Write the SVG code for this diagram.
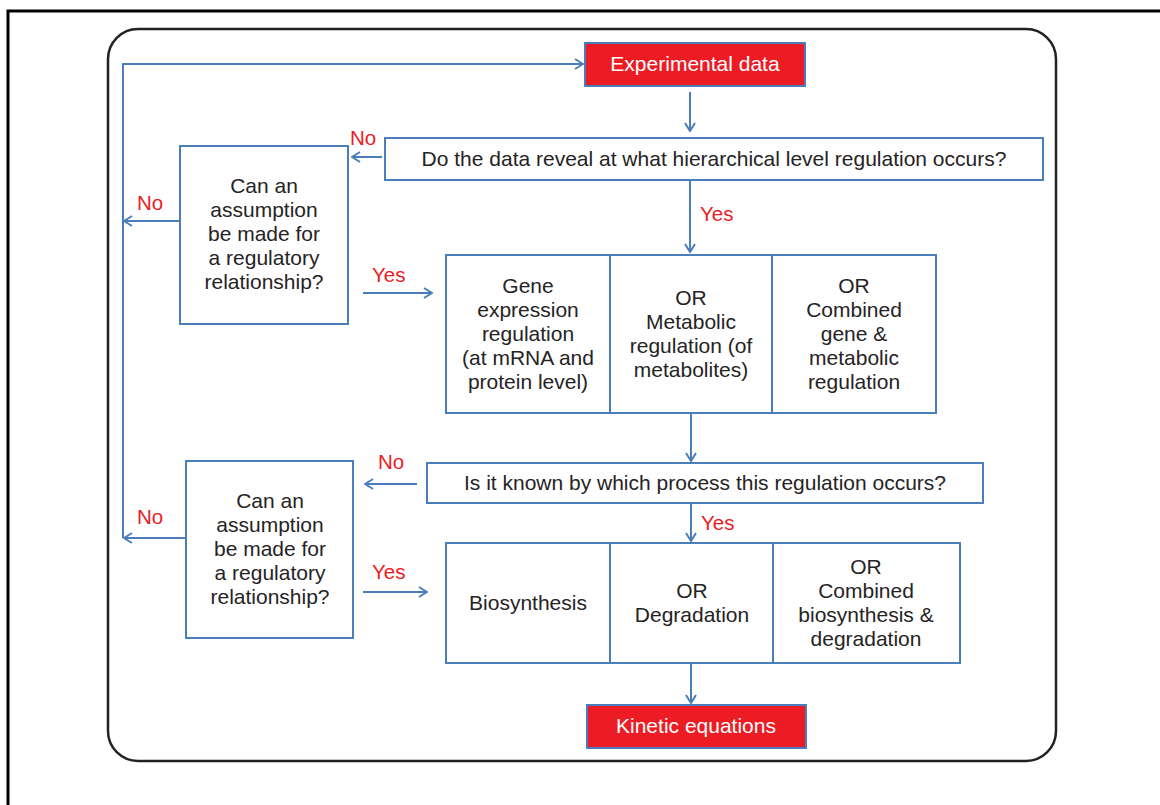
<svg xmlns="http://www.w3.org/2000/svg" width="1160" height="805" viewBox="0 0 1160 805">
<style>
  .box { fill: #ffffff; stroke: #4a7ebb; stroke-width: 2; }
  .red { fill: #ed1c24; stroke: #4a7ebb; stroke-width: 2; }
  .div { stroke: #4a7ebb; stroke-width: 2; }
  .t { font-family: "Liberation Sans", Arial, sans-serif; font-size: 21px; fill: #262324; text-anchor: middle; }
  .tw { font-family: "Liberation Sans", Arial, sans-serif; font-size: 21px; fill: #ffffff; text-anchor: middle; }
  .lbl { font-family: "Liberation Sans", Arial, sans-serif; font-size: 20.5px; fill: #ed1c24; }
  .c { fill: none; stroke: #4a7ebb; stroke-width: 2; marker-end: url(#ah); }
</style>
<defs>
  <marker id="ah" viewBox="0 0 10 12" refX="9" refY="6" markerWidth="10" markerHeight="12" markerUnits="userSpaceOnUse" orient="auto">
    <path d="M1,1 L9,6 L1,11" fill="none" stroke="#4a7ebb" stroke-width="2"/>
  </marker>
</defs>
<rect width="1160" height="805" fill="#ffffff"/>
<rect x="8" y="11" width="1200" height="900" fill="none" stroke="#000000" stroke-width="3"/>
<rect x="108" y="29" width="948" height="732" rx="30" ry="30" fill="none" stroke="#222222" stroke-width="2.5"/>

<g id="connectors">
  <path class="c" d="M123,538 L123,64 L583,64"/>
  <path class="c" d="M180,221 L124,221"/>
  <path class="c" d="M186,538 L124,538"/>
  <path class="c" d="M690,92 L690,131"/>
  <path class="c" d="M382,157 L352,157"/>
  <path class="c" d="M690,180 L690,252"/>
  <path class="c" d="M363,293 L432,293"/>
  <path class="c" d="M691,413 L691,461"/>
  <path class="c" d="M417,484 L365,484"/>
  <path class="c" d="M691,503 L691,541"/>
  <path class="c" d="M363,592 L427,592"/>
  <path class="c" d="M691,663 L691,703"/>
  <text class="lbl" x="350" y="145">No</text>
  <text class="lbl" x="137" y="210">No</text>
  <text class="lbl" x="700" y="221">Yes</text>
  <text class="lbl" x="372" y="282">Yes</text>
  <text class="lbl" x="378" y="469">No</text>
  <text class="lbl" x="137" y="524">No</text>
  <text class="lbl" x="701" y="530">Yes</text>
  <text class="lbl" x="372" y="579">Yes</text>
</g>

<g id="experimental-data">
  <rect class="red" x="585" y="43" width="220" height="43"/>
  <text class="tw" x="695" y="71">Experimental data</text>
</g>

<g id="question-1">
  <rect class="box" x="385" y="138" width="658" height="42"/>
  <text class="t" x="714" y="166">Do the data reveal at what hierarchical level regulation occurs?</text>
</g>

<g id="assumption-1">
  <rect class="box" x="180" y="146" width="168" height="178"/>
  <text class="t" x="264" y="193">Can an</text>
  <text class="t" x="264" y="217">assumption</text>
  <text class="t" x="264" y="241">be made for</text>
  <text class="t" x="264" y="265">a regulatory</text>
  <text class="t" x="264" y="289">relationship?</text>
</g>

<g id="regulation-types">
  <rect class="box" x="446" y="255" width="490" height="158"/>
  <line class="div" x1="610" y1="255" x2="610" y2="413"/>
  <line class="div" x1="772" y1="255" x2="772" y2="413"/>
  <text class="t" x="528" y="293">Gene</text>
  <text class="t" x="528" y="317">expression</text>
  <text class="t" x="528" y="341">regulation</text>
  <text class="t" x="528" y="365">(at mRNA and</text>
  <text class="t" x="528" y="389">protein level)</text>
  <text class="t" x="691" y="305">OR</text>
  <text class="t" x="691" y="329">Metabolic</text>
  <text class="t" x="691" y="353">regulation (of</text>
  <text class="t" x="691" y="377">metabolites)</text>
  <text class="t" x="854" y="293">OR</text>
  <text class="t" x="854" y="317">Combined</text>
  <text class="t" x="854" y="341">gene &amp;</text>
  <text class="t" x="854" y="365">metabolic</text>
  <text class="t" x="854" y="389">regulation</text>
</g>

<g id="question-2">
  <rect class="box" x="427" y="463" width="556" height="40"/>
  <text class="t" x="705" y="490">Is it known by which process this regulation occurs?</text>
</g>

<g id="assumption-2">
  <rect class="box" x="186" y="461" width="167" height="177"/>
  <text class="t" x="270" y="508">Can an</text>
  <text class="t" x="270" y="532">assumption</text>
  <text class="t" x="270" y="556">be made for</text>
  <text class="t" x="270" y="580">a regulatory</text>
  <text class="t" x="270" y="604">relationship?</text>
</g>

<g id="process-types">
  <rect class="box" x="446" y="543" width="514" height="120"/>
  <line class="div" x1="610" y1="543" x2="610" y2="663"/>
  <line class="div" x1="773" y1="543" x2="773" y2="663"/>
  <text class="t" x="528" y="610">Biosynthesis</text>
  <text class="t" x="692" y="598">OR</text>
  <text class="t" x="692" y="622">Degradation</text>
  <text class="t" x="866" y="574">OR</text>
  <text class="t" x="866" y="598">Combined</text>
  <text class="t" x="866" y="622">biosynthesis &amp;</text>
  <text class="t" x="866" y="646">degradation</text>
</g>

<g id="kinetic-equations">
  <rect class="red" x="587" y="705" width="219" height="43"/>
  <text class="tw" x="696" y="733">Kinetic equations</text>
</g>
</svg>
